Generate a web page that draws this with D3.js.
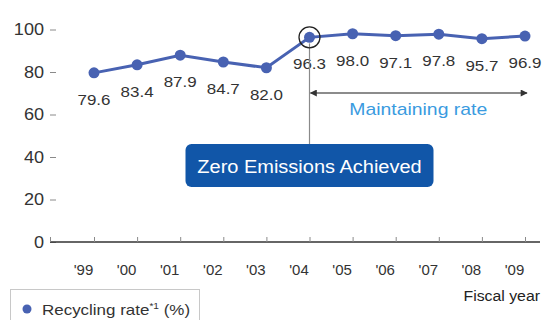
<!DOCTYPE html>
<html>
<head>
<meta charset="utf-8">
<script src="https://cdn.jsdelivr.net/npm/d3@7"></script>
<style>
  body { margin: 0; background: #fff; }
  svg { display: block; }
  text { font-family: "Liberation Sans", Arial, Helvetica, sans-serif; }
</style>
</head>
<body>
<svg id="chart" width="542" height="320"></svg>
<script>
// Fiscal years and recycling rate (%)
const years = ["'99", "'00", "'01", "'02", "'03", "'04", "'05", "'06", "'07", "'08", "'09"];
const rates = [79.6, 83.4, 87.9, 84.7, 82.0, 96.3, 98.0, 97.1, 97.8, 95.7, 96.9];
const yTicks = [0, 20, 40, 60, 80, 100];
const milestoneYear = "'04";
const maintainRange = ["'04", "'09"];
const milestoneText = "Zero Emissions Achieved";
const maintainText = "Maintaining rate";
const xTitle = "Fiscal year";
const legendName = "Recycling rate";
const legendNote = "*1";
const legendUnit = " (%)";

const BLUE = "#4862b2";
const WIDEN = 1.13;

const svg = d3.select("#chart");
const x = d3.scalePoint().domain(years).range([94, 525]);
const y = d3.scaleLinear().domain([0, 100]).range([242, 29.5]);

// Slightly widen glyphs for the chart's broad lettering
function widen(sel, k = WIDEN) {
  sel.each(function () {
    const w = this.getComputedTextLength();
    d3.select(this).attr("textLength", w * k).attr("lengthAdjust", "spacingAndGlyphs");
  });
}

// Y axis: short dashes with labels, no spine
const yAxis = svg.append("g")
  .attr("transform", "translate(56,0)")
  .call(d3.axisLeft(y).tickValues(yTicks).tickSize(6).tickPadding(6).tickFormat(d3.format("d")));
yAxis.select(".domain").remove();
yAxis.selectAll(".tick line").attr("stroke", "#8a8a8a");
yAxis.selectAll(".tick text")
  .attr("font-size", 16).attr("fill", "#333").attr("font-family", null);
widen(yAxis.selectAll(".tick text"));

// X axis: baseline with upward ticks
const y0 = y(0);
svg.append("line")
  .attr("x1", 50).attr("x2", 540).attr("y1", y0).attr("y2", y0)
  .attr("stroke", "#333").attr("stroke-width", 1.6);
svg.append("line")
  .attr("x1", 50.5).attr("x2", 50.5).attr("y1", y0).attr("y2", y0 - 5)
  .attr("stroke", "#8a8a8a");
const xAxis = svg.append("g")
  .attr("transform", `translate(0,${y0})`)
  .call(d3.axisBottom(x).tickSize(-5).tickPadding(22));
xAxis.select(".domain").remove();
xAxis.selectAll(".tick line").attr("stroke", "#8a8a8a");
xAxis.selectAll(".tick text")
  .attr("x", -11).attr("font-size", 15).attr("fill", "#333").attr("font-family", null);

svg.append("text")
  .attr("x", 540).attr("y", 301).attr("text-anchor", "end")
  .attr("font-size", 14).attr("fill", "#222").text(xTitle)
  .call(widen);

// Data labels under the points
const pts = years.map((yr, i) => ({ yr, v: rates[i] }));
svg.append("g").selectAll("text").data(pts).join("text")
  .attr("x", d => x(d.yr)).attr("y", d => y(d.v) + 32)
  .attr("text-anchor", "middle").attr("font-size", 15).attr("fill", "#333")
  .text(d => d3.format(".1f")(d.v))
  .call(widen);

// Milestone marker: ring, drop line, and label box
const mx = x(milestoneYear);
const my = y(rates[years.indexOf(milestoneYear)]);
svg.append("line")
  .attr("x1", mx).attr("x2", mx).attr("y1", my + 6).attr("y2", 145)
  .attr("stroke", "#8a8a8a").attr("stroke-width", 1.2);

// Line and points
svg.append("path").datum(pts)
  .attr("fill", "none").attr("stroke", BLUE).attr("stroke-width", 3)
  .attr("d", d3.line().x(d => x(d.yr)).y(d => y(d.v)));
svg.append("g").selectAll("circle").data(pts).join("circle")
  .attr("cx", d => x(d.yr)).attr("cy", d => y(d.v)).attr("r", 5.5)
  .attr("fill", BLUE);

svg.append("circle")
  .attr("cx", mx).attr("cy", my).attr("r", 10.5)
  .attr("fill", "none").attr("stroke", "#222").attr("stroke-width", 1.3);

const boxW = 248, boxH = 43;
svg.append("rect")
  .attr("x", mx - boxW / 2).attr("y", 144).attr("width", boxW).attr("height", boxH)
  .attr("rx", 6).attr("fill", "#1156a8");
svg.append("text")
  .attr("x", mx).attr("y", 173).attr("text-anchor", "middle")
  .attr("font-size", 18).attr("fill", "#fff").text(milestoneText)
  .call(widen, 1.11);

// Maintaining-rate span arrow
const defs = svg.append("defs");
defs.append("marker")
  .attr("id", "arr").attr("viewBox", "0 0 10 10").attr("refX", 9).attr("refY", 5)
  .attr("markerWidth", 9).attr("markerHeight", 7).attr("markerUnits", "userSpaceOnUse")
  .attr("orient", "auto-start-reverse")
  .append("path").attr("d", "M0,0 L10,5 L0,10 Z").attr("fill", "#333");
const ax1 = x(maintainRange[0]), ax2 = x(maintainRange[1]) + 2;
svg.append("line")
  .attr("x1", ax1 + 1).attr("x2", ax2).attr("y1", 93).attr("y2", 93)
  .attr("stroke", "#666").attr("stroke-width", 1.3)
  .attr("marker-start", "url(#arr)").attr("marker-end", "url(#arr)");
svg.append("text")
  .attr("x", (ax1 + ax2) / 2).attr("y", 115).attr("text-anchor", "middle")
  .attr("font-size", 17).attr("fill", "#3a9be0").text(maintainText)
  .call(widen, 1.14);

// Legend
const lg = svg.append("g");
lg.append("rect")
  .attr("x", 10.5).attr("y", 289.5).attr("width", 189).attr("height", 40)
  .attr("fill", "#fff").attr("stroke", "#c8c8c8");
lg.append("circle").attr("cx", 27).attr("cy", 309).attr("r", 4.5).attr("fill", BLUE);
const lt = lg.append("text")
  .attr("x", 42).attr("y", 315).attr("font-size", 15).attr("fill", "#333");
lt.append("tspan").text(legendName);
lt.append("tspan").attr("font-size", 9).attr("dy", -6).text(legendNote);
lt.append("tspan").attr("dy", 6).text(legendUnit);
widen(lt);
</script>
</body>
</html>
